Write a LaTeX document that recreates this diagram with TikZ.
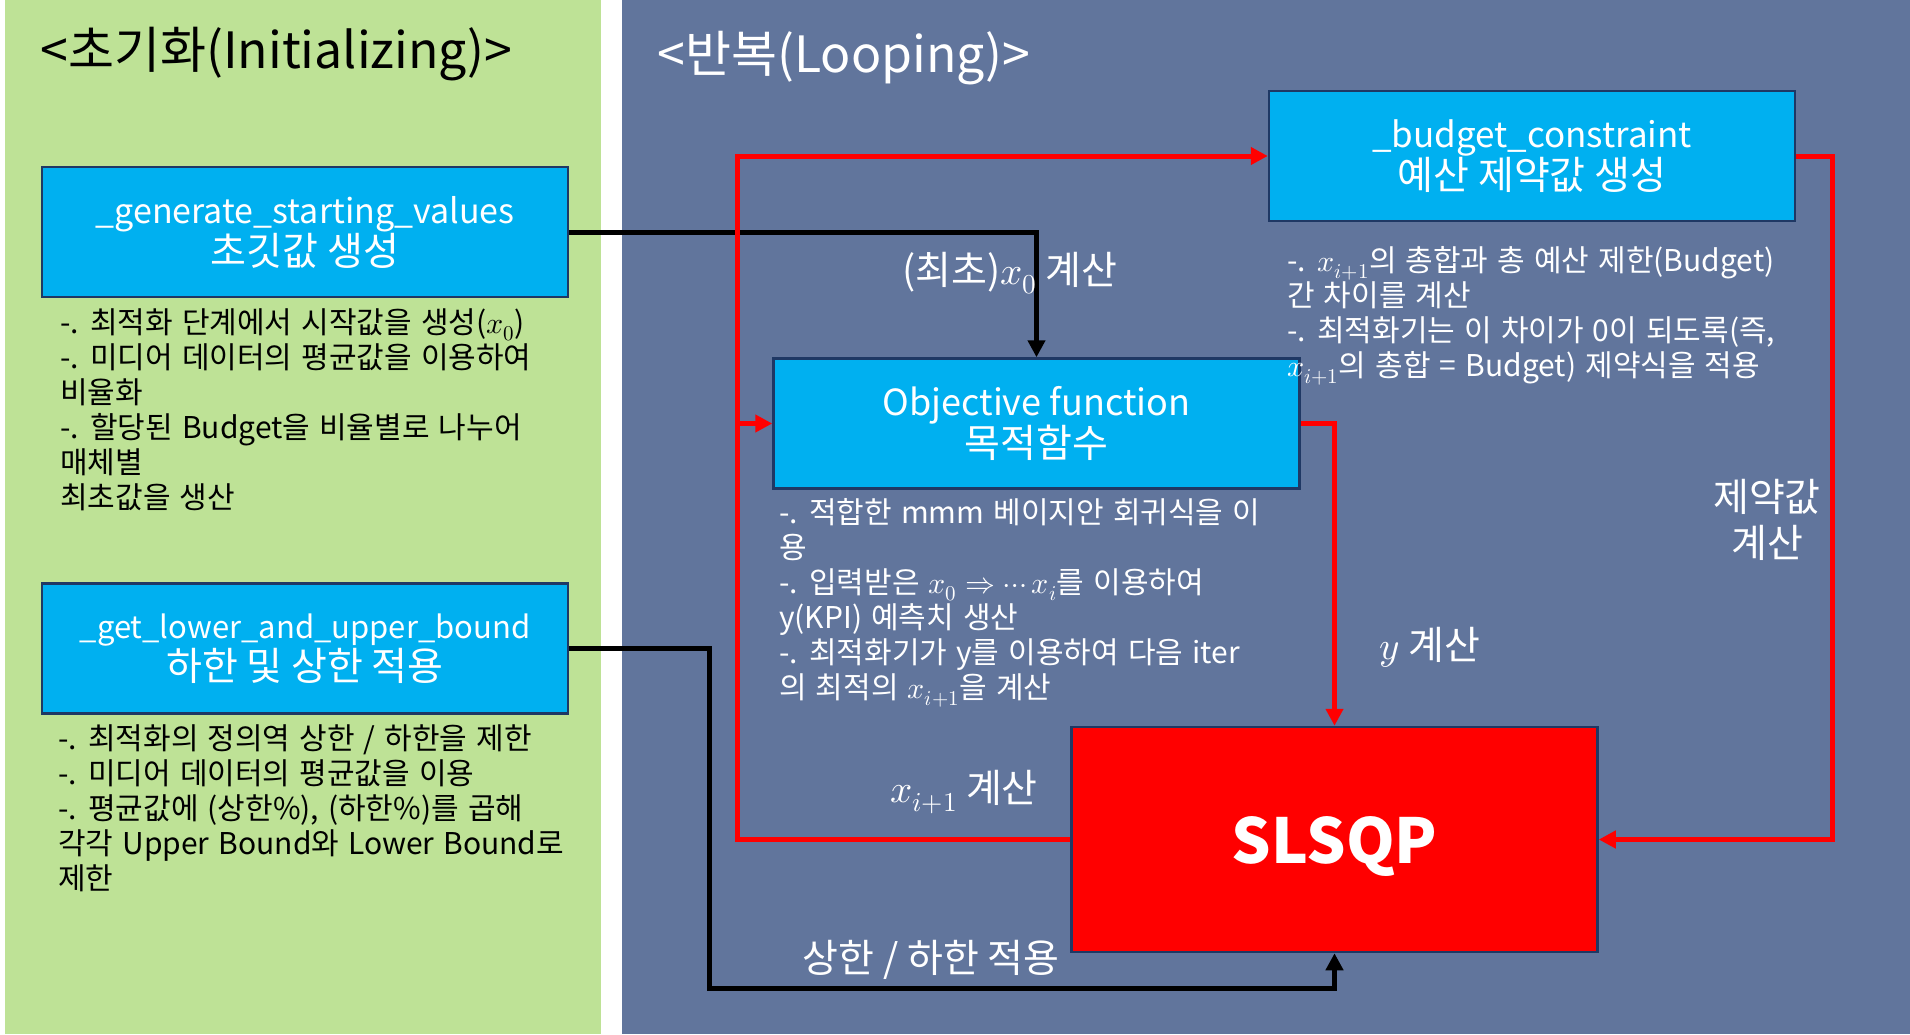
\documentclass[tikz,border=0pt]{standalone}
\usepackage{unicode-math}
\setmainfont{Noto Sans CJK KR}
\newfontfamily\memofamily{Noto Sans CJK KR}[WordSpace=1.35]
\usetikzlibrary{arrows.meta}
\definecolor{initgreen}{RGB}{190,226,150}
\definecolor{loopblue}{RGB}{97,117,156}
\definecolor{boxblue}{RGB}{0,176,240}
\definecolor{boxline}{RGB}{31,56,100}
\newcommand\hanline{\fontsize{39}{44}\selectfont}
\tikzset{
  funcbox/.style={draw=boxline, line width=2.5pt, fill=boxblue, text=white, align=center,
    minimum width=526pt, minimum height=130pt, inner sep=0pt,
    font=\fontsize{35}{42}\selectfont},
  memo/.style={anchor=north west, align=left, inner sep=0pt,
    font=\memofamily\fontsize{30}{35}\selectfont},
  darrow/.style={line width=5pt, -{Triangle[width=17pt,length=17pt]}},
  rarrow/.style={darrow, draw=red},
  steplabel/.style={text=white, align=center, font=\fontsize{39}{46}\selectfont},
  title/.style={anchor=base west, font=\fontsize{50}{56}\selectfont}
}
\begin{document}
\begin{tikzpicture}[x=1pt,y=-1pt]
\useasboundingbox (0,0) rectangle (1910,1034);
\fill[initgreen] (5,0) rectangle (601,1034); % 초기화
\fill[loopblue] (622,0) rectangle (1910,1034); % 반복
%
\node[title] (inittitle) at (37,68) {<초기화(Initializing)>};
\node[title, text=white] (looptitle) at (654,72) {<반복(Looping)>};
%
\node[funcbox] (start) at (305,232) {{\fontsize{34}{42}\selectfont\_generate\_starting\_values}\\{\hanline 초깃값 생성}};
\node[funcbox] (bound) at (305,648.5) {{\fontsize{31}{42}\selectfont\_get\_lower\_and\_upper\_bound}\\{\hanline 하한 및 상한 적용}};
\node[funcbox] (budget) at (1532,156) {\_budget\_constraint\\{\hanline 예산 제약값 생성}};
\node[funcbox] (objective) at (1036.5,423.5) {{\fontsize{36}{42}\selectfont Objective function}\\{\hanline 목적함수}};
\node[funcbox, fill=red, minimum height=225pt, text depth=0pt,
  font=\fontsize{62}{70}\selectfont\bfseries] (slsqp) at (1334.5,839.5) {SLSQP};
%
\node[memo] (startmemo) at (60,308) {-. 최적화 단계에서 시작값을 생성($x_0$)\\-. 미디어 데이터의 평균값을 이용하여\\비율화\\-. 할당된 Budget을 비율별로 나누어\\매체별\\최초값을 생산};
\node[memo] (boundmemo) at (58,724) {-. 최적화의 정의역 상한 / 하한을 제한\\-. 미디어 데이터의 평균값을 이용\\-. 평균값에 (상한\%), (하한\%)를 곱해\\각각 Upper Bound와 Lower Bound로\\제한};
\node[memo, text=white] (objmemo) at (779,498) {-. 적합한 mmm 베이지안 회귀식을 이\\용\\-. 입력받은 $x_0 \Rightarrow \cdots x_i$를 이용하여\\y(KPI) 예측치 생산\\-. 최적화기가 y를 이용하여 다음 iter\\의 최적의 $x_{i+1}$을 계산};
\node[memo, text=white] (budgetmemo) at (1287,246) {-. $x_{i+1}$의 총합과 총 예산 제한(Budget)\\간 차이를 계산\\-. 최적화기는 이 차이가 0이 되도록(즉,\\$x_{i+1}$의 총합 = Budget) 제약식을 적용};
%
\coordinate (boundturn) at (709,988);
\coordinate (loopleft) at (737,839.5);
\coordinate (loopright) at (1832,156);
\draw[darrow] (start.east) -| (objective.north); % 초기값
\draw[darrow] (bound.east) -| (boundturn) -| (slsqp.south); % 상한/하한
\draw[rarrow] (slsqp.west) -- (loopleft) |- (budget.west);
\draw[rarrow] (loopleft |- objective.west) -- (objective.west);
\draw[rarrow] (objective.east) -| (slsqp.north);
\draw[rarrow] (budget.east) -- (loopright) |- (slsqp.east);
%
\node[steplabel] (firstlabel) at (1010,273) {(최초)$x_0$ 계산};
\node[steplabel] (ylabel) at (1430,647) {$y$ 계산};
\node[steplabel] (conlabel) at (1767,520) {제약값\\계산};
\node[steplabel] (nextlabel) at (964,792) {$x_{i+1}$ 계산};
\node[steplabel] (boundlabel) at (931,960) {상한 / 하한 적용};
\end{tikzpicture}
\end{document}
